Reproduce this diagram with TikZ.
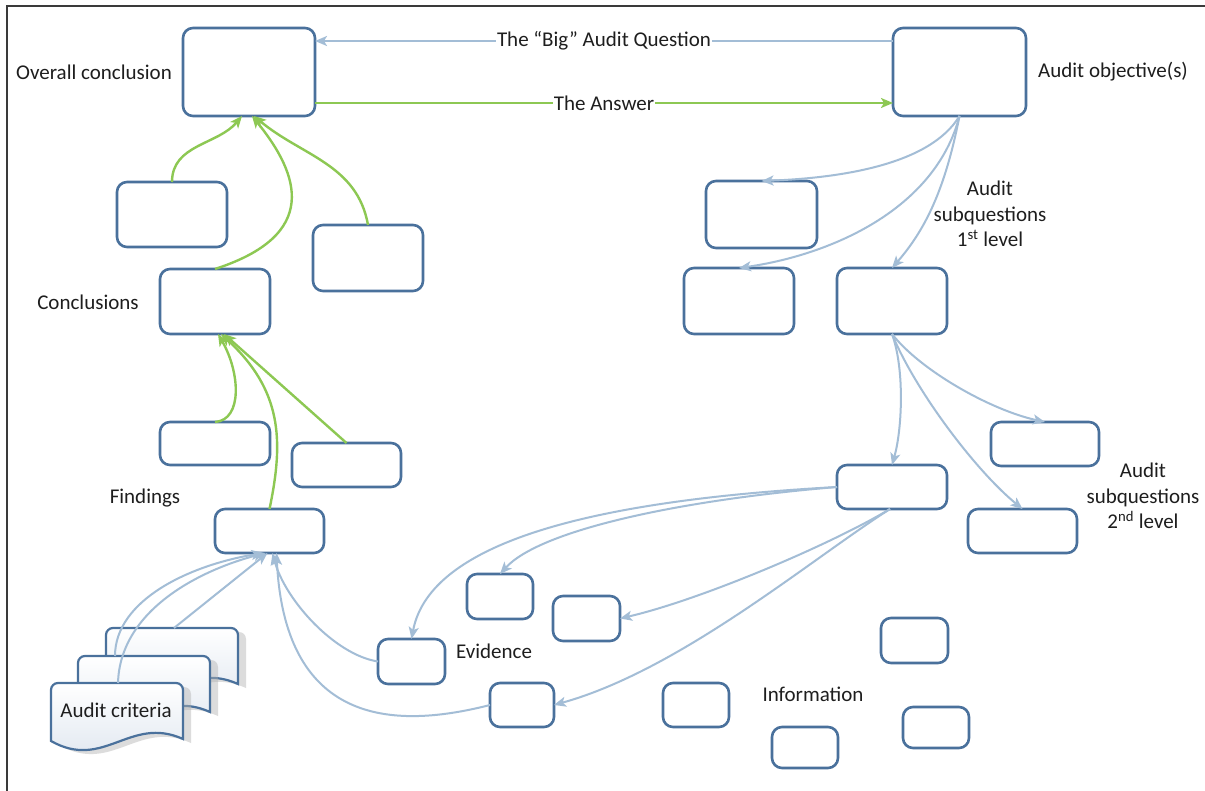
\documentclass[tikz,border=0pt]{standalone}
\usepackage{fontspec}
\setmainfont{Carlito}
\usetikzlibrary{arrows.meta,calc}
\definecolor{boxc}{HTML}{4A719C}
\definecolor{bluc}{HTML}{A3BDD6}
\definecolor{grnc}{HTML}{8DC853}
\definecolor{txtc}{HTML}{1E1E1E}
\definecolor{docc}{HTML}{DCE4EE}
\definecolor{framec}{HTML}{3A3A3A}
\newcommand\mybox[5]{\node[box, minimum width={(#4-#2)*1pt}, minimum height={(#5-#3)*1pt}] (#1) at ({(#2+#4)/2},{-(#3+#5)/2}) {};}
\newcommand\docpath[2]{({#1},{-(#2+58)}) -- ({#1},{-(#2+7)}) arc[start angle=180,end angle=90,radius=7] -- ({#1+125},{-(#2)}) arc[start angle=90,end angle=0,radius=7] -- ({#1+132},{-(#2+56)}) .. controls ({#1+79},{-(#2+32)}) and ({#1+53},{-(#2+88)}) .. ({#1},{-(#2+58)}) -- cycle}
\newcommand\mydoc[2]{%
  \fill[black!30, opacity=.45] \docpath{#1+8}{#2+4};
  \path[draw=boxc, line width=2.2pt, top color=white, bottom color=docc] \docpath{#1}{#2};
}
\begin{document}
\begin{tikzpicture}[x=1pt,y=1pt,
  box/.style={draw=boxc, line width=2.6pt, rounded corners=10pt, fill=white, inner sep=0pt, outer sep=0pt},
  lbl/.style={font=\fontsize{21}{25.5}\selectfont, text=txtc, inner sep=1pt, align=center},
  blu/.style={draw=bluc, line width=2pt, -{Stealth[length=12pt,width=10pt,inset=3pt]}},
  grn/.style={draw=grnc, line width=2.4pt, -{Stealth[length=12pt,width=10pt,inset=3pt]}},
  frame/.style={draw=framec, line width=1.5pt}
]
\useasboundingbox (0,0) rectangle (1205,-791);
\fill[white] (0,0) rectangle (1205,-791);
\draw[frame] (7,-791) -- (7,-6) -- (1205,-6);

% audit criteria documents
\mydoc{106}{628}
\mydoc{78}{656}
\mydoc{51}{683}
\node[lbl] (crit) at (116,-710) {Audit criteria};
\coordinate (dback) at (174,-628);
\coordinate (dmid) at (115,-656);
\coordinate (dfront) at (118,-683);

% boxes
\mybox{OC}{183}{28}{315}{116}
\mybox{AO}{893}{28}{1026}{116}
\mybox{L1a}{117}{182}{227}{247}
\mybox{L1b}{313}{225}{423}{291}
\mybox{C}{160}{269}{270}{334}
\mybox{F1}{160}{422}{270}{465}
\mybox{F2}{292}{443}{401}{487}
\mybox{F3}{215}{509}{324}{553}
\mybox{R1a}{706}{181}{817}{248}
\mybox{R1b}{684}{268}{794}{334}
\mybox{R1c}{837}{268}{947}{334}
\mybox{R2a}{991}{422}{1099}{466}
\mybox{R2b}{837}{465}{947}{509}
\mybox{R2c}{968}{509}{1077}{553}
\mybox{E1}{467}{574}{533}{619}
\mybox{E2}{553}{596}{620}{641}
\mybox{E3}{378}{639}{445}{684}
\mybox{E4}{490}{683}{554}{727}
\mybox{I1}{881}{618}{948}{663}
\mybox{I2}{663}{683}{729}{727}
\mybox{I3}{903}{707}{969}{748}
\mybox{I4}{772}{727}{838}{768}

% top connectors
\draw[blu] ([yshift=-13pt]AO.north west) -- node[lbl, fill=white, inner xsep=1pt] (q) {The “Big” Audit Question} ([yshift=-13pt]OC.north east);
\draw[grn] ([yshift=13pt]OC.south east) -- node[lbl, fill=white, inner xsep=1pt] (ans) {The Answer} ([yshift=13pt]AO.south west);

% green: to overall conclusion
\draw[grn] (L1a.north) to[out=90,in=-130] ([xshift=-7pt]OC.south);
\draw[grn] (C.north) .. controls (320,-235) and (300,-175) .. ([xshift=3pt]OC.south);
\draw[grn] (L1b.north) to[out=100,in=-40] ([xshift=5pt]OC.south);

% green: to conclusions
\draw[grn] (F1.north) .. controls (243,-420) and (240,-372) .. ([xshift=3pt]C.south);
\draw[grn] (F3.north) .. controls (284,-440) and (282,-390) .. ([xshift=6pt]C.south);
\draw[grn] (F2.north) -- ([xshift=9pt]C.south);

% blue: objective to 1st level
\draw[blu] (AO.south) .. controls (930,-165) and (840,-178) .. (R1a.north);
\draw[blu] (AO.south) .. controls (935,-210) and (830,-255) .. (R1b.north);
\draw[blu] (AO.south) .. controls (945,-190) and (925,-230) .. (R1c.north);

% blue: 1st to 2nd level
\draw[blu] (R1c.south) .. controls (905,-370) and (902,-430) .. (R2b.north);
\draw[blu] (R1c.south) .. controls (920,-370) and (990,-410) .. (R2a.north);
\draw[blu] (R1c.south) .. controls (915,-390) and (975,-470) .. (R2c.north);

% blue: 2nd level to evidence
\draw[blu] (R2b.west) .. controls (600,-500) and (430,-540) .. (E3.north);
\draw[blu] (R2b.west) .. controls (680,-500) and (540,-530) .. (E1.north);
\draw[blu] ([xshift=-2pt]R2b.south) .. controls (830,-545) and (700,-600) .. (E2.east);
\draw[blu] ([xshift=-2pt]R2b.south) .. controls (810,-560) and (680,-670) .. (E4.east);

% blue: evidence to findings
\draw[blu] (E3.west) .. controls (335,-655) and (285,-600) .. ([xshift=3pt]F3.south);
\draw[blu] (E4.west) .. controls (400,-728) and (285,-730) .. ([xshift=7pt]F3.south);

% blue: criteria to findings
\draw[blu] (dback) -- ([xshift=-2pt]F3.south);
\draw[blu] (dmid) .. controls (115,-600) and (190,-565) .. ([xshift=-6pt]F3.south);
\draw[blu] (dfront) .. controls (120,-610) and (200,-570) .. ([xshift=-4pt]F3.south);

% labels
\node[lbl] (tOC) at (94,-72) {Overall conclusion};
\node[lbl, anchor=west] (tAO) at (1037,-72) {Audit objective(s)};
\node[lbl] (tS1) at (990,-214) {Audit\\subquestions\\1\textsuperscript{st} level};
\node[lbl] (tC) at (88,-302) {Conclusions};
\node[lbl] (tF) at (145,-498) {Findings};
\node[lbl] (tS2) at (1143,-496) {Audit\\subquestions\\2\textsuperscript{nd} level};
\node[lbl] (tE) at (494,-651) {Evidence};
\node[lbl] (tI) at (813,-694) {Information};
\end{tikzpicture}
\end{document}
